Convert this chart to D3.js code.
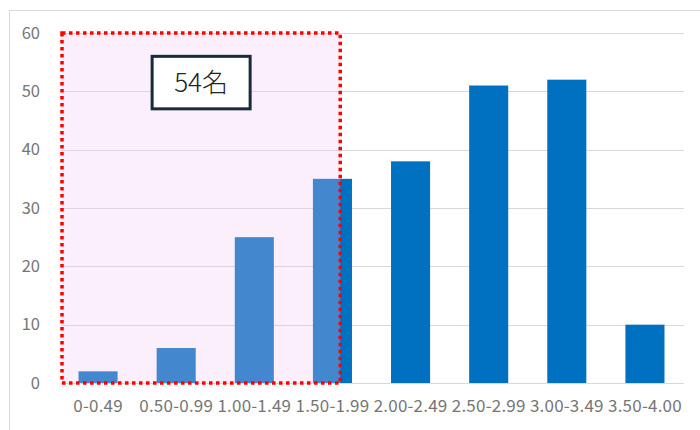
<!DOCTYPE html>
<html>
<head>
<meta charset="utf-8">
<script src="https://cdn.jsdelivr.net/npm/d3@7"></script>
<style>
  body { margin: 0; background: #fff; }
  svg { display: block; font-family: "Noto Sans CJK JP", "Noto Sans", sans-serif; }
</style>
</head>
<body>
<svg id="chart" width="700" height="430"></svg>
<script>
// GPA ranges and number of students
var ranges = ["0-0.49", "0.50-0.99", "1.00-1.49", "1.50-1.99", "2.00-2.49", "2.50-2.99", "3.00-3.49", "3.50-4.00"];
var counts = [2, 6, 25, 35, 38, 51, 52, 10];
var yTicks = [0, 10, 20, 30, 40, 50, 60];
var noteText = "54名";
// highlighted range ends inside this category
var highlightEnd = "1.50-1.99";

var chartW = 700;
var chartH = 430;
var plotLeft = 61, plotRight = 684, plotTop = 33, plotBottom = 383;

const svg = d3.select("#chart");

// outer chart frame
svg.append("rect")
  .attr("x", 9.5)
  .attr("y", 10.5)
  .attr("width", chartW)
  .attr("height", chartH)
  .attr("fill", "#fff")
  .attr("stroke", "#d9d9d9");

const x = d3.scaleBand()
  .domain(ranges)
  .range([59, plotRight])
  .paddingInner(0.5)
  .paddingOuter(0.25);

const y = d3.scaleLinear()
  .domain([0, 60])
  .range([plotBottom, plotTop]);

// gridlines
svg.append("g")
  .selectAll("line")
  .data(yTicks)
  .enter()
  .append("line")
  .attr("x1", plotLeft)
  .attr("x2", plotRight)
  .attr("y1", d => Math.round(y(d)) + 0.5)
  .attr("y2", d => Math.round(y(d)) + 0.5)
  .attr("stroke", "#d9d9d9")
  .attr("stroke-width", 1);

// y axis labels
const yAxis = svg.append("g")
  .attr("transform", `translate(40,0)`)
  .call(d3.axisLeft(y).tickValues(yTicks).tickSize(0).tickPadding(0));
yAxis.select(".domain").remove();
yAxis.selectAll("text")
  .attr("fill", "#767676")
  .attr("font-size", 16.5)
  .attr("font-family", "'Noto Sans CJK JP', 'Noto Sans', sans-serif");

// x axis labels
const xAxis = svg.append("g")
  .attr("transform", `translate(0,${plotBottom})`)
  .call(d3.axisBottom(x).tickSize(0).tickPadding(17));
xAxis.select(".domain").remove();
xAxis.selectAll("text")
  .attr("fill", "#767676")
  .attr("font-size", 17)
  .attr("letter-spacing", 0.2)
  .attr("font-family", "'Noto Sans CJK JP', 'Noto Sans', sans-serif");

// bars
svg.append("g")
  .selectAll("rect")
  .data(counts)
  .enter()
  .append("rect")
  .attr("x", (d, i) => x(ranges[i]))
  .attr("y", d => y(d))
  .attr("width", x.bandwidth())
  .attr("height", d => y(0) - y(d))
  .attr("fill", "#0070c0");

// highlighted region
const hx0 = plotLeft + 1;
const hx1 = x(highlightEnd) + x.bandwidth() * 0.7;
svg.append("rect")
  .attr("x", hx0)
  .attr("y", y(60))
  .attr("width", hx1 - hx0)
  .attr("height", y(0) - y(60))
  .attr("fill", "rgb(244,197,244)")
  .attr("fill-opacity", 0.275);

svg.append("rect")
  .attr("x", hx0)
  .attr("y", y(60))
  .attr("width", hx1 - hx0)
  .attr("height", y(0) - y(60))
  .attr("fill", "none")
  .attr("stroke", "#ff0000")
  .attr("stroke-width", 3.5)
  .attr("stroke-dasharray", "3.5,3.5");

// note box
const bx = (hx0 + hx1) / 2;
svg.append("rect")
  .attr("x", bx - 49)
  .attr("y", y(56))
  .attr("width", 98)
  .attr("height", y(47) - y(56))
  .attr("fill", "#fff")
  .attr("stroke", "#172c38")
  .attr("stroke-width", 3);

svg.append("text")
  .attr("x", bx)
  .attr("y", (y(56) + y(47)) / 2)
  .attr("dy", "0.35em")
  .attr("text-anchor", "middle")
  .attr("font-size", 26)
  .attr("font-weight", 300)
  .attr("fill", "#222")
  .text(noteText);
</script>
</body>
</html>
